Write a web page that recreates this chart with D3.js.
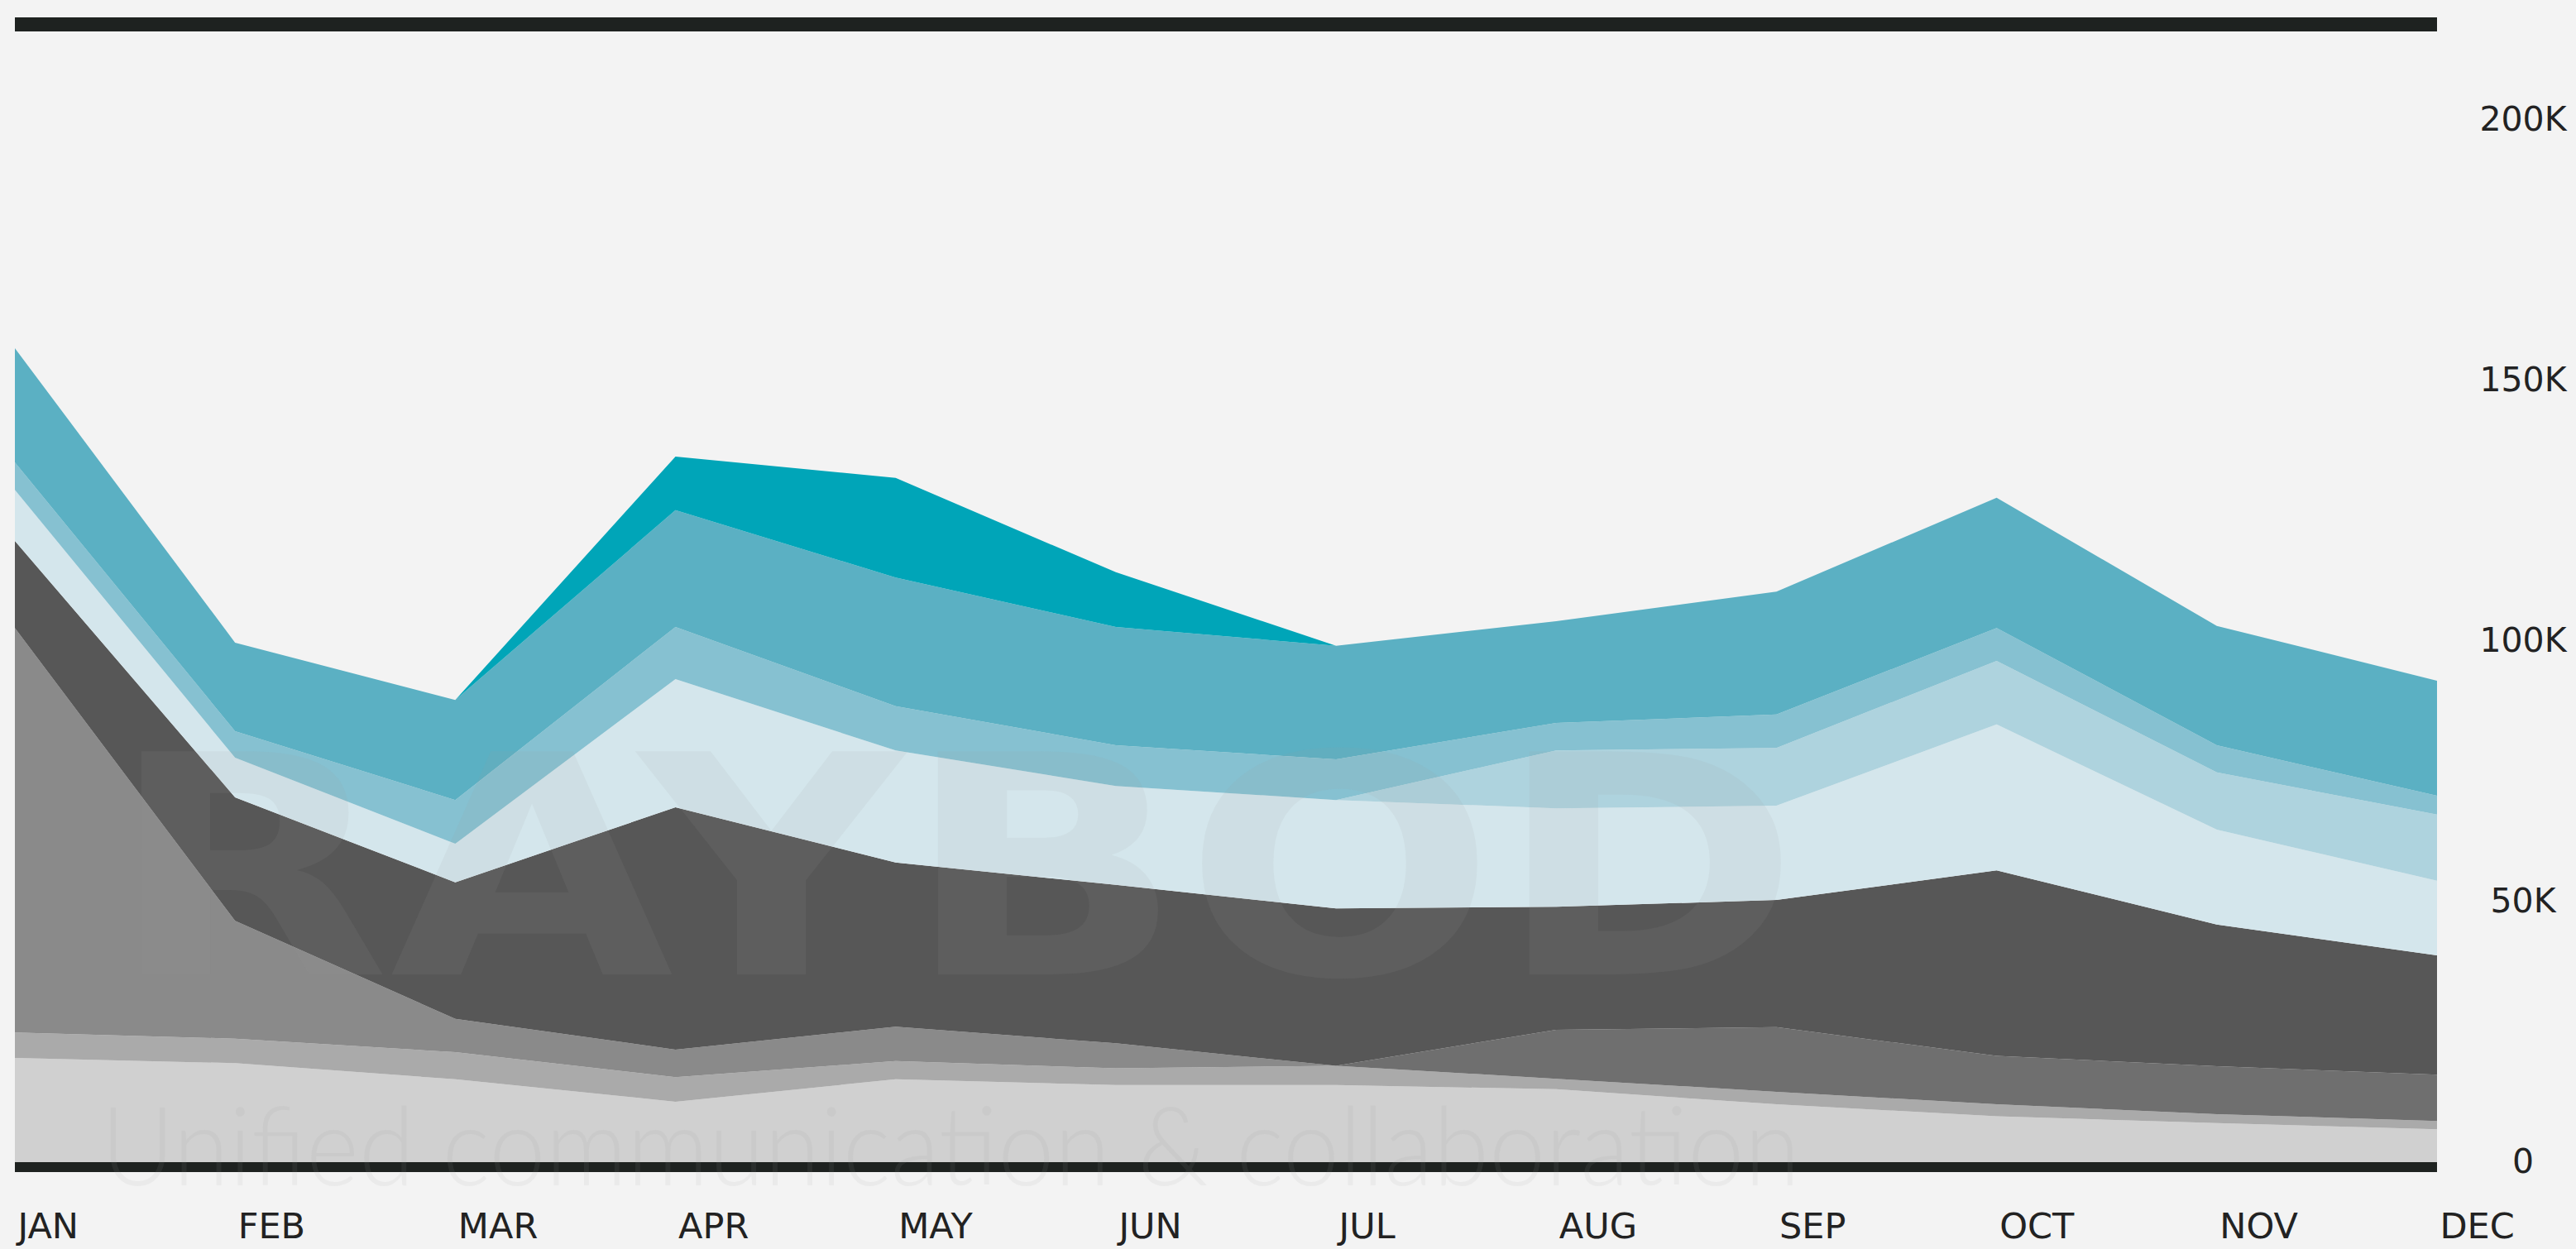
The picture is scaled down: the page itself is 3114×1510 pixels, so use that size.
<!DOCTYPE html>
<html>
<head>
<meta charset="utf-8">
<script src="https://cdn.jsdelivr.net/npm/d3@7"></script>
<style>
  html, body { margin: 0; padding: 0; background: #f3f3f3; }
  svg { display: block; }
</style>
</head>
<body>
<svg id="chart" width="3114" height="1510"></svg>
<script>
// months on the x axis
var months = ["JAN", "FEB", "MAR", "APR", "MAY", "JUN", "JUL", "AUG", "SEP", "OCT", "NOV", "DEC"]

// stacked series, bottom to top, values in K
var s1 = [20.0, 19.0, 15.9, 11.6, 15.9, 14.8, 14.8, 14.0, 11.1, 8.8, 7.5, 6.3]
var s2 = [4.9, 4.7, 5.2, 4.7, 3.5, 3.2, 3.7, 2.0, 2.4, 2.3, 1.7, 1.6]
var s3 = [77.6, 22.6, 6.4, 5.3, 6.6, 4.8, 0, 0, 0, 0, 0, 0]
var s4 = [0, 0, 0, 0, 0, 0, 0, 9.4, 12.4, 9.3, 9.2, 8.9]
var s5 = [16.7, 23.7, 26.2, 46.5, 31.5, 30.4, 30.2, 23.6, 24.4, 35.6, 27.2, 22.9]
var s6 = [9.8, 7.6, 7.4, 24.6, 21.5, 19.0, 20.8, 18.9, 18.1, 28.0, 18.2, 14.3]
var s7 = [0, 0, 0, 0, 0, 0, 0, 11.1, 11.1, 12.2, 11.0, 12.7]
var s8 = [5.3, 5.1, 8.4, 10.0, 8.5, 7.8, 7.8, 5.3, 6.4, 6.3, 5.2, 3.6]
var s9 = [21.9, 17.0, 19.2, 22.4, 24.7, 22.7, 21.8, 19.5, 23.6, 25.0, 22.9, 22.1]
var s10 = [0, 0, 0, 10.3, 19.1, 10.5, 0, 0, 0, 0, 0, 0]

var seriesKeys = ["s1", "s2", "s3", "s4", "s5", "s6", "s7", "s8", "s9", "s10"]
var seriesValues = [s1, s2, s3, s4, s5, s6, s7, s8, s9, s10]
var colors = ["#d0d0d0", "#aaaaaa", "#8a8a8a", "#6f6f6f", "#575757",
              "#d4e6ec", "#aed3de", "#86c1d1", "#5bb0c3", "#00a5b8"]

var yTicks = [0, 50, 100, 150, 200]

var width = 3114
var height = 1510
var left = 18, right = 2946
var barColor = "#1e2220"

var svg = d3.select("#chart")

svg.append("rect")
  .attr("width", width)
  .attr("height", height)
  .attr("fill", "#f3f3f3")

var x = d3.scalePoint().domain(months).range([left, right])
var y = d3.scaleLinear().domain([0, 200]).range([1405, 145])

// rows for d3.stack
var rows = months.map(function (m, i) {
  var r = { month: m }
  seriesKeys.forEach(function (k, j) { r[k] = seriesValues[j][i] })
  return r
})

var stacked = d3.stack().keys(seriesKeys)(rows)

var area = d3.area()
  .x(function (d) { return x(d.data.month) })
  .y0(function (d) { return y(d[0]) })
  .y1(function (d) { return y(d[1]) })

svg.append("g").selectAll("path")
  .data(stacked)
  .join("path")
  .attr("d", area)
  .attr("fill", function (d, i) { return colors[i] })

// top decorative bar and baseline
svg.append("rect")
  .attr("x", left).attr("y", 21)
  .attr("width", right - left).attr("height", 17)
  .attr("fill", barColor)
svg.append("rect")
  .attr("x", left).attr("y", y(0))
  .attr("width", right - left).attr("height", 12)
  .attr("fill", barColor)

// watermark over the plot
var wm = svg.append("g").attr("fill", "#999").attr("fill-opacity", 0.1).attr("pointer-events", "none")
wm.append("text")
  .attr("x", 130).attr("y", 1178)
  .attr("textLength", 2046).attr("lengthAdjust", "spacingAndGlyphs")
  .style("font-family", "'DejaVu Sans', sans-serif")
  .style("font-weight", "bold")
  .style("font-size", "370px")
  .text("RAYBOD")
wm.append("text")
  .attr("x", 122).attr("y", 1433)
  .attr("textLength", 2054).attr("lengthAdjust", "spacingAndGlyphs")
  .style("font-family", "Lato, 'Open Sans', sans-serif")
  .style("font-weight", 300)
  .style("font-size", "132px")
  .text("Unified communication & collaboration")

// x axis
var xAxis = svg.append("g")
  .attr("transform", "translate(0,1497)")
  .call(d3.axisBottom(x).tickSize(0).tickPadding(0))
xAxis.select(".domain").remove()
xAxis.selectAll("text")
  .attr("y", 0).attr("dy", 0)
  .attr("dx", 3)
  .attr("text-anchor", "start")
  .attr("fill", "#222")
  .style("font-family", "'DejaVu Sans', sans-serif")
  .style("font-size", "43px")

// y axis, labels centred in the right margin
var yAxis = svg.append("g")
  .attr("transform", "translate(3050,0)")
  .call(d3.axisRight(y).tickValues(yTicks).tickSize(0).tickPadding(0)
    .tickFormat(function (d) { return d === 0 ? "0" : d + "K" }))
yAxis.select(".domain").remove()
yAxis.selectAll("text")
  .attr("x", 0)
  .attr("dy", "0.3em")
  .attr("text-anchor", "middle")
  .attr("fill", "#222")
  .style("font-family", "'DejaVu Sans', sans-serif")
  .style("font-size", "41px")
</script>
</body>
</html>
